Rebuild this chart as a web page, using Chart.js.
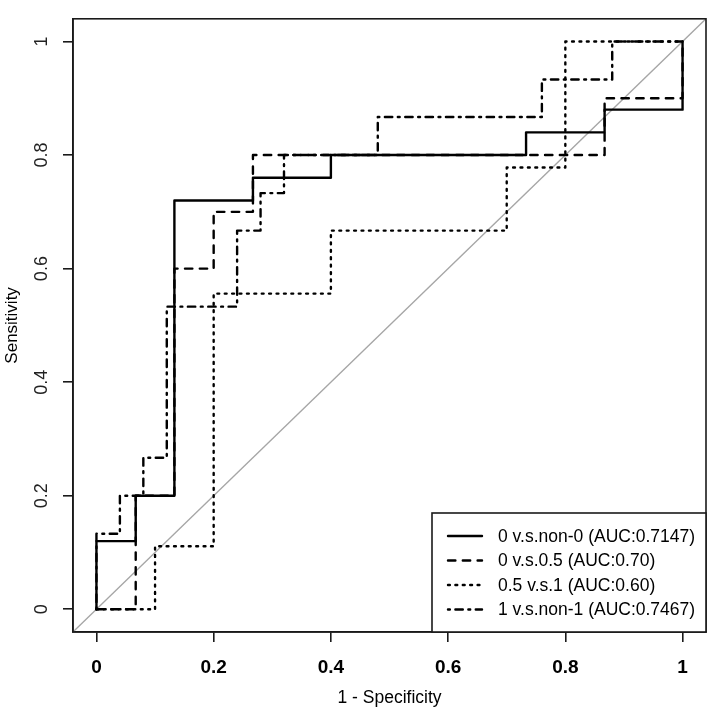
<!DOCTYPE html>
<html>
<head>
<meta charset="utf-8">
<title>ROC curves</title>
<script src="https://cdn.jsdelivr.net/npm/chart.js@4.4.1/dist/chart.umd.min.js"></script>
<style>
  html, body { margin: 0; padding: 0; background: #fff; }
  canvas { display: block; }
</style>
</head>
<body>
<canvas id="rocChart" width="709" height="712"></canvas>
<script>
// ROC corner points: x = 1 - specificity, y = sensitivity
const seriesNames = [
  "0 v.s.non-0 (AUC:0.7147)",
  "0 v.s.0.5 (AUC:0.70)",
  "0.5 v.s.1 (AUC:0.60)",
  "1 v.s.non-1 (AUC:0.7467)"
];

const fpr0 = [0, 0, 0.067, 0.067, 0.133, 0.133, 0.267, 0.267, 0.4, 0.4, 0.733, 0.733, 0.867, 0.867, 1, 1];
const tpr0 = [0, 0.12, 0.12, 0.2, 0.2, 0.72, 0.72, 0.76, 0.76, 0.8, 0.8, 0.84, 0.84, 0.88, 0.88, 1];

const fpr1 = [0, 0.067, 0.067, 0.133, 0.133, 0.2, 0.2, 0.267, 0.267, 0.867, 0.867, 1, 1];
const tpr1 = [0, 0, 0.2, 0.2, 0.6, 0.6, 0.7, 0.7, 0.8, 0.8, 0.9, 0.9, 1];

const fpr2 = [0, 0.1, 0.1, 0.2, 0.2, 0.4, 0.4, 0.7, 0.7, 0.8, 0.8, 1];
const tpr2 = [0, 0, 0.111, 0.111, 0.556, 0.556, 0.667, 0.667, 0.778, 0.778, 1, 1];

const fpr3 = [0, 0, 0.04, 0.04, 0.08, 0.08, 0.12, 0.12, 0.24, 0.24, 0.28, 0.28, 0.32, 0.32, 0.48, 0.48, 0.76, 0.76, 0.88, 0.88, 1];
const tpr3 = [0, 0.133, 0.133, 0.2, 0.2, 0.267, 0.267, 0.533, 0.533, 0.667, 0.667, 0.733, 0.733, 0.8, 0.8, 0.867, 0.867, 0.933, 0.933, 1, 1];

const tickVals = [0, 0.2, 0.4, 0.6, 0.8, 1];
const axisLimits = [-0.04, 1.04];

const FONT = "'Liberation Sans', Arial, Helvetica, sans-serif";
const LW = 2.4;

function toPoints(xs, ys) {
  return xs.map((x, i) => ({ x: x, y: ys[i] }));
}

function rocSet(label, xs, ys, dash) {
  return {
    label: label,
    data: toPoints(xs, ys),
    borderColor: "#000",
    borderWidth: LW,
    borderDash: dash,
    borderCapStyle: "round",
    borderJoinStyle: "round",
    pointRadius: 0,
    tension: 0,
    fill: false
  };
}

// box around the plot region + legend in the bottom right corner (R style)
const rocFrame = {
  id: "rocFrame",
  afterDatasetsDraw(chart) {
    const { ctx, chartArea } = chart;
    ctx.save();
    ctx.strokeStyle = "#1a1a1a";
    ctx.lineWidth = 1.6;
    ctx.setLineDash([]);
    ctx.strokeRect(chartArea.left, chartArea.top, chartArea.right - chartArea.left, chartArea.bottom - chartArea.top);

    // legend box
    const w = 274, h = 119;
    const left = chartArea.right - w;
    const top = chartArea.bottom - h;
    ctx.fillStyle = "#fff";
    ctx.fillRect(left, top, w, h);
    ctx.strokeRect(left, top, w, h);

    const rowGap = 24.5;
    chart.data.datasets.slice(0, seriesNames.length).forEach((ds, i) => {
      const y = top + 23 + i * rowGap;
      ctx.beginPath();
      ctx.strokeStyle = "#000";
      ctx.lineWidth = LW;
      ctx.lineCap = "round";
      ctx.setLineDash(ds.borderDash || []);
      ctx.moveTo(left + 16, y);
      ctx.lineTo(left + 50, y);
      ctx.stroke();
      ctx.setLineDash([]);
      ctx.fillStyle = "#000";
      ctx.font = "17.5px " + FONT;
      ctx.textAlign = "left";
      ctx.textBaseline = "middle";
      ctx.fillText(ds.label, left + 66, y + 1);
    });
    ctx.restore();
  }
};

const diagonal = {
  label: "diag",
  data: toPoints(axisLimits, axisLimits),
  borderColor: "#a6a6a6",
  borderWidth: 1.3,
  pointRadius: 0,
  fill: false
};

const lineScale = 1.85;
new Chart(document.getElementById("rocChart"), {
  type: "line",
  data: {
    datasets: [
      rocSet(seriesNames[0], fpr0, tpr0, []),
      rocSet(seriesNames[1], fpr1, tpr1, [4 * lineScale, 4 * lineScale]),
      rocSet(seriesNames[2], fpr2, tpr2, [1 * lineScale, 3 * lineScale]),
      rocSet(seriesNames[3], fpr3, tpr3, [1 * lineScale, 3 * lineScale, 4 * lineScale, 3 * lineScale]),
      diagonal
    ]
  },
  options: {
    responsive: false,
    animation: false,
    layout: { padding: { top: 2, right: 3, left: 0, bottom: 0 } },
    plugins: {
      legend: { display: false },
      tooltip: { enabled: false }
    },
    scales: {
      x: {
        type: "linear",
        min: axisLimits[0],
        max: axisLimits[1],
        afterBuildTicks: s => { s.ticks = tickVals.map(v => ({ value: v })); },
        afterFit: s => { s.height = 80; },
        grid: { drawOnChartArea: false, drawTicks: true, tickLength: 10, tickColor: "#1a1a1a", lineWidth: 1.6 },
        border: { display: true, color: "#1a1a1a", width: 1.6 },
        ticks: {
          autoSkip: false,
          maxRotation: 0,
          padding: 14,
          color: "#000",
          font: { family: FONT, size: 19, weight: "bold" },
          callback: v => String(v)
        },
        title: {
          display: true,
          text: "1 - Specificity",
          color: "#000",
          font: { family: FONT, size: 17.5 },
          padding: { top: 0, bottom: 3 }
        }
      },
      y: {
        type: "linear",
        min: axisLimits[0],
        max: axisLimits[1],
        afterBuildTicks: s => { s.ticks = tickVals.map(v => ({ value: v })); },
        afterFit: s => { s.width = 73; },
        grid: { drawOnChartArea: false, drawTicks: true, tickLength: 10, tickColor: "#1a1a1a", lineWidth: 1.6 },
        border: { display: true, color: "#1a1a1a", width: 1.6 },
        ticks: {
          autoSkip: false,
          minRotation: 90,
          maxRotation: 90,
          crossAlign: "center",
          padding: 8,
          color: "#222",
          font: { family: FONT, size: 18 },
          callback: v => String(v)
        },
        title: {
          display: true,
          text: "Sensitivity",
          color: "#000",
          font: { family: FONT, size: 17 },
          padding: { top: 2, bottom: 0 }
        }
      }
    }
  },
  plugins: [rocFrame]
});
</script>
</body>
</html>
